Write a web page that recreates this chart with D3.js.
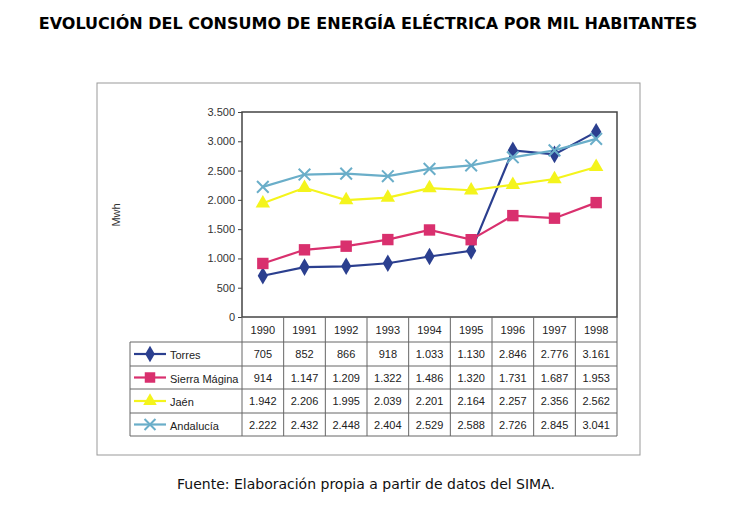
<!DOCTYPE html>
<meta charset="utf-8">
<style>
body { margin: 0; background: #fff; }
text { font-family: "Liberation Sans", Arial, sans-serif; }
</style>
<svg width="743" height="513"></svg>
<script src="https://cdn.jsdelivr.net/npm/d3@7"></script>
<script>

var years = ["1990", "1991", "1992", "1993", "1994", "1995", "1996", "1997", "1998"];
var torres = [705, 852, 866, 918, 1033, 1130, 2846, 2776, 3161];
var sierra = [914, 1147, 1209, 1322, 1486, 1320, 1731, 1687, 1953];
var jaen = [1942, 2206, 1995, 2039, 2201, 2164, 2257, 2356, 2562];
var andalucia = [2222, 2432, 2448, 2404, 2529, 2588, 2726, 2845, 3041];
var yTicks = [0, 500, 1000, 1500, 2000, 2500, 3000, 3500];

var series = [
  { name: "Torres", values: torres, color: "#2b3f8f", symbol: "diamond" },
  { name: "Sierra Mágina", values: sierra, color: "#d9306e", symbol: "square" },
  { name: "Jaén", values: jaen, color: "#f4f41c", symbol: "triangle" },
  { name: "Andalucía", values: andalucia, color: "#6aaec9", symbol: "x" }
];

var fmt = function(v) { return d3.format(",")(v).replace(/,/g, "."); };

var svg = d3.select("svg");
var plotLeft = 242, plotRight = 617, plotTop = 112, plotBottom = 317;

svg.append("text").attr("x", 368).attr("y", 29).attr("text-anchor", "middle")
    .style("font-family", "'DejaVu Sans', sans-serif").style("font-size", "16px").style("font-weight", "bold")
    .text("EVOLUCIÓN DEL CONSUMO DE ENERGÍA ELÉCTRICA POR MIL HABITANTES");

svg.append("rect").attr("x", 97).attr("y", 83).attr("width", 543).attr("height", 372)
    .attr("fill", "none").attr("stroke", "#999").attr("stroke-width", 1);

var x = d3.scaleBand().domain(years).range([plotLeft, plotRight]);
var y = d3.scaleLinear().domain([0, 3500]).range([plotBottom, plotTop]);

svg.append("rect").attr("x", plotLeft).attr("y", plotTop).attr("width", plotRight - plotLeft).attr("height", plotBottom - plotTop)
    .attr("fill", "none").attr("stroke", "#444").attr("stroke-width", 1.5);

var yAxis = svg.append("g").attr("transform", "translate(" + plotLeft + ",0)")
    .call(d3.axisLeft(y).tickValues(yTicks).tickFormat(fmt).tickSize(4));
yAxis.select(".domain").remove();
yAxis.selectAll("text").style("font-size", "11px").attr("fill", "#333");
yAxis.selectAll("line").attr("stroke", "#444");

svg.append("text").attr("transform", "translate(120,215) rotate(-90)").attr("text-anchor", "middle")
    .style("font-size", "11px").attr("fill", "#333").text("Mwh");

var line = d3.line().x(function(d, i) { return x(years[i]) + x.bandwidth() / 2; }).y(function(d) { return y(d); });

series.forEach(function(s) {
  svg.append("path").datum(s.values).attr("d", line).attr("fill", "none")
      .attr("stroke", s.color).attr("stroke-width", 2.2);
});

function marker(g, s, size) {
  if (s.symbol === "x") {
    g.append("path").attr("d", d3.symbol(d3.symbolX, size)()).attr("stroke", s.color).attr("stroke-width", 2).attr("fill", "none");
  } else {
    var t = s.symbol === "diamond" ? d3.symbolDiamond : s.symbol === "square" ? d3.symbolSquare : d3.symbolTriangle;
    g.append("path").attr("d", d3.symbol(t, size)()).attr("fill", s.color);
  }
}

series.forEach(function(s) {
  s.values.forEach(function(v, i) {
    var g = svg.append("g").attr("transform", "translate(" + (x(years[i]) + x.bandwidth() / 2) + "," + y(v) + ")");
    marker(g, s, s.symbol === "square" ? 130 : 90);
  });
});

// data table
var rowY = [317, 342, 366, 389, 413, 436];
var tableLeft = 130;
var grid = svg.append("g").attr("stroke", "#666").attr("stroke-width", 1).attr("fill", "none");
rowY.slice(1).forEach(function(ry) {
  grid.append("line").attr("x1", tableLeft).attr("x2", plotRight).attr("y1", ry).attr("y2", ry);
});
grid.append("line").attr("x1", tableLeft).attr("x2", tableLeft).attr("y1", rowY[1]).attr("y2", rowY[5]);
years.forEach(function(yr) {
  grid.append("line").attr("x1", x(yr)).attr("x2", x(yr)).attr("y1", plotBottom).attr("y2", rowY[5]);
});
grid.append("line").attr("x1", plotRight).attr("x2", plotRight).attr("y1", plotBottom).attr("y2", rowY[5]);

years.forEach(function(yr) {
  svg.append("text").attr("x", x(yr) + x.bandwidth() / 2).attr("y", (rowY[0] + rowY[1]) / 2 + 4)
      .attr("text-anchor", "middle").style("font-size", "11px").attr("fill", "#222").text(yr);
});

series.forEach(function(s, r) {
  var cy = (rowY[r + 1] + rowY[r + 2]) / 2;
  svg.append("line").attr("x1", tableLeft + 4).attr("x2", tableLeft + 36).attr("y1", cy).attr("y2", cy)
      .attr("stroke", s.color).attr("stroke-width", 2.2);
  var g = svg.append("g").attr("transform", "translate(" + (tableLeft + 20) + "," + cy + ")");
  marker(g, s, s.symbol === "square" ? 110 : 80);
  svg.append("text").attr("x", tableLeft + 40).attr("y", cy + 5).style("font-size", "11px").attr("fill", "#222").text(s.name);
  s.values.forEach(function(v, i) {
    svg.append("text").attr("x", x(years[i]) + x.bandwidth() / 2).attr("y", cy + 4)
        .attr("text-anchor", "middle").style("font-size", "11px").attr("fill", "#222").text(fmt(v));
  });
});

svg.append("text").attr("x", 366).attr("y", 489).attr("text-anchor", "middle")
    .style("font-family", "'DejaVu Sans', sans-serif").style("font-size", "14px").attr("fill", "#111")
    .text("Fuente: Elaboración propia a partir de datos del SIMA.");

</script>
